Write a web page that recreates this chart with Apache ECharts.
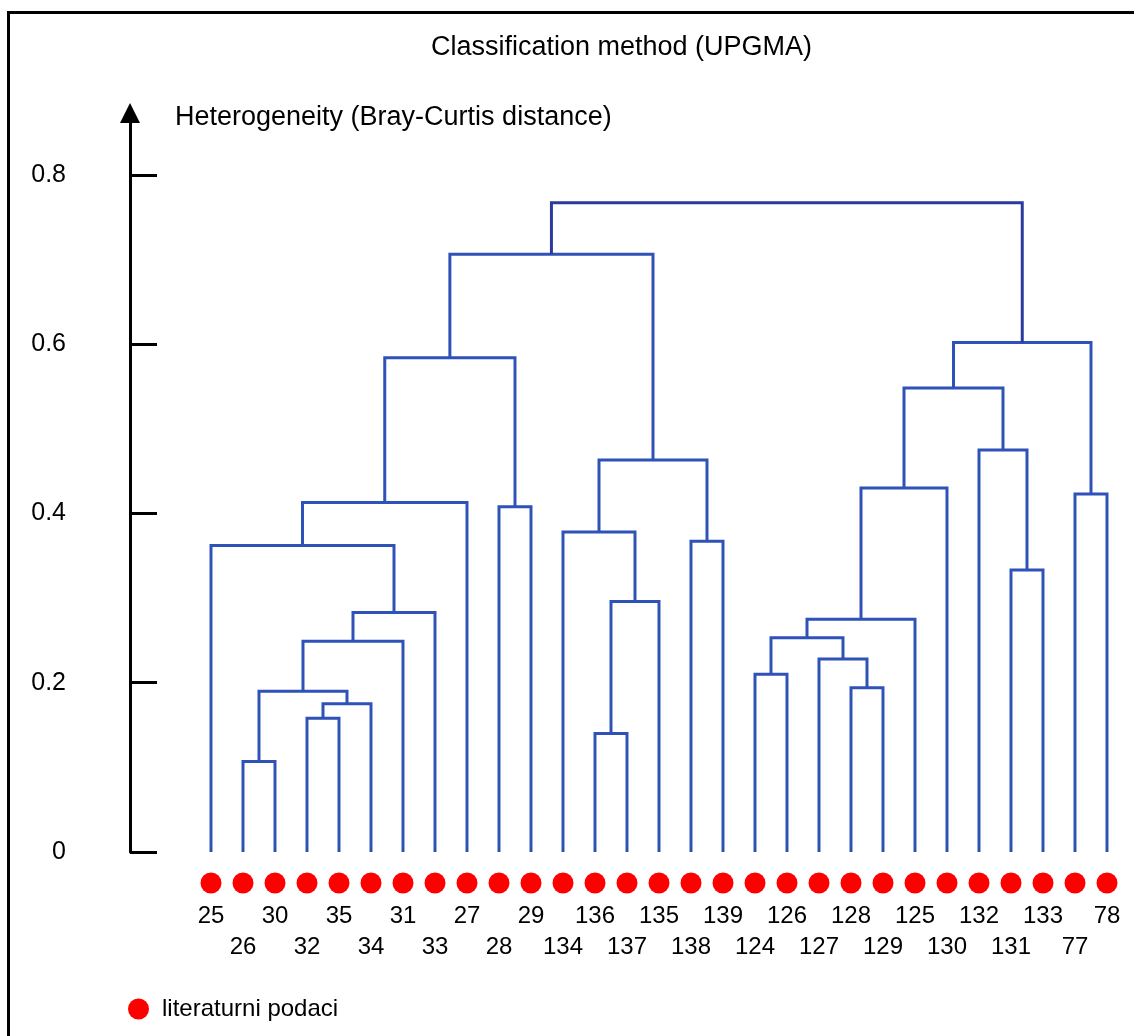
<!DOCTYPE html>
<html>
<head>
<meta charset="utf-8">
<script src="https://cdn.jsdelivr.net/npm/echarts@6/dist/echarts.min.js"></script>
<style>
  html, body { margin: 0; padding: 0; background: #fff; }
  #wrap { position: relative; width: 1134px; height: 1036px; overflow: hidden; }
  #chart { position: absolute; left: 0; top: 0; width: 1134px; height: 1036px; }
  #frame { position: absolute; left: 7px; top: 11px; width: 1200px; height: 1100px;
           border-left: 3px solid #000; border-top: 3px solid #000; pointer-events: none; }
</style>
</head>
<body>
<div id="wrap"><div id="chart"></div><div id="frame"></div></div>
<script>
// Leaf labels in dendrogram order (left to right)
const leafLabels = ['25','26','30','32','35','34','31','33','27','28','29','134','136','137','135','138','139',
                    '124','126','127','128','129','125','130','132','131','133','77','78'];
// Merges: ids 0..28 are leaves, id 29+k is the k-th merge
const mergeLeft   = [1, 3, 30, 29, 32, 33, 0, 35, 9, 36, 12, 39, 11, 15, 41, 38, 17, 20, 19, 45, 48, 49, 25, 24, 50, 27, 53, 44];
const mergeRight  = [2, 4, 5, 31, 6, 7, 34, 8, 10, 37, 13, 14, 40, 16, 42, 43, 18, 21, 46, 47, 22, 23, 26, 51, 52, 28, 54, 55];
const mergeHeight = [0.107, 0.158, 0.175, 0.190, 0.249, 0.283, 0.362, 0.413, 0.408, 0.584, 0.140, 0.296, 0.378, 0.367,
                     0.463, 0.706, 0.210, 0.194, 0.228, 0.253, 0.275, 0.430, 0.333, 0.475, 0.548, 0.423, 0.602, 0.767];
const yTicks = [0, 0.2, 0.4, 0.6, 0.8];
const leafMarkerLevel = -0.0366;

const nLeaves = leafLabels.length;
const pos = [], hgt = [];
for (let i = 0; i < nLeaves; i++) { pos.push(i); hgt.push(0); }
const links = [];
mergeHeight.forEach((h, k) => {
  const a = mergeLeft[k], b = mergeRight[k];
  pos.push((pos[a] + pos[b]) / 2);
  hgt.push(h);
  const isRoot = k === mergeHeight.length - 1;
  links.push({
    coords: [[pos[a], hgt[a]], [pos[a], h], [pos[b], h], [pos[b], hgt[b]]],
    lineStyle: { color: isRoot ? '#2a3a9f' : '#2f52b8' }
  });
});

const leafPoints = leafLabels.map((lab, i) => ({
  value: [i, leafMarkerLevel],
  label: { distance: i % 2 === 0 ? 11 : 42 }
}));

const FONT = 'Liberation Sans, Arial, sans-serif';
const chart = echarts.init(document.getElementById('chart'), null, { renderer: 'canvas' });
chart.setOption({
  animation: false,
  backgroundColor: '#fff',
  title: {
    text: 'Classification method (UPGMA)',
    left: 426, top: 29,
    textStyle: { fontFamily: FONT, fontSize: 27, fontWeight: 'normal', color: '#000' }
  },
  legend: {
    data: ['literaturni podaci'],
    left: 123, top: 992,
    icon: 'circle', itemWidth: 21, itemHeight: 21,
    itemStyle: { opacity: 1 },
    textStyle: { fontFamily: FONT, fontSize: 24, color: '#000', padding: [0, 0, 0, 8] }
  },
  grid: { left: 130, right: 11, top: 113, bottom: 184 },
  xAxis: { type: 'value', min: -2.531, max: 28.5, show: false },
  yAxis: {
    type: 'value', min: 0, max: 0.873,
    name: 'Heterogeneity (Bray-Curtis distance)',
    nameLocation: 'end', nameGap: -5,
    nameTextStyle: { fontFamily: FONT, fontSize: 27, color: '#000', align: 'left', verticalAlign: 'middle', padding: [0, 0, 0, 45] },
    axisLine: { show: true, onZero: false, symbol: ['none', 'triangle'], symbolSize: [20, 20], lineStyle: { color: '#000', width: 3 } },
    axisTick: { show: true, inside: true, length: 27, customValues: yTicks, lineStyle: { color: '#000', width: 3 } },
    axisLabel: { customValues: yTicks, margin: 64, fontFamily: FONT, fontSize: 25, color: '#000',
                 formatter: v => v === 0 ? '0' : v.toFixed(1) },
    splitLine: { show: false }
  },
  series: [
    {
      type: 'lines', coordinateSystem: 'cartesian2d', polyline: true,
      lineStyle: { width: 3, opacity: 1 },
      data: links, z: 2
    },
    {
      name: 'literaturni podaci',
      type: 'scatter', clip: false, symbol: 'circle', symbolSize: 21,
      itemStyle: { color: '#ff0000', opacity: 1 },
      label: { show: true, position: 'bottom', formatter: p => leafLabels[p.dataIndex],
               fontFamily: FONT, fontSize: 24, color: '#000' },
      data: leafPoints, z: 3
    }
  ]
});
</script>
</body>
</html>
